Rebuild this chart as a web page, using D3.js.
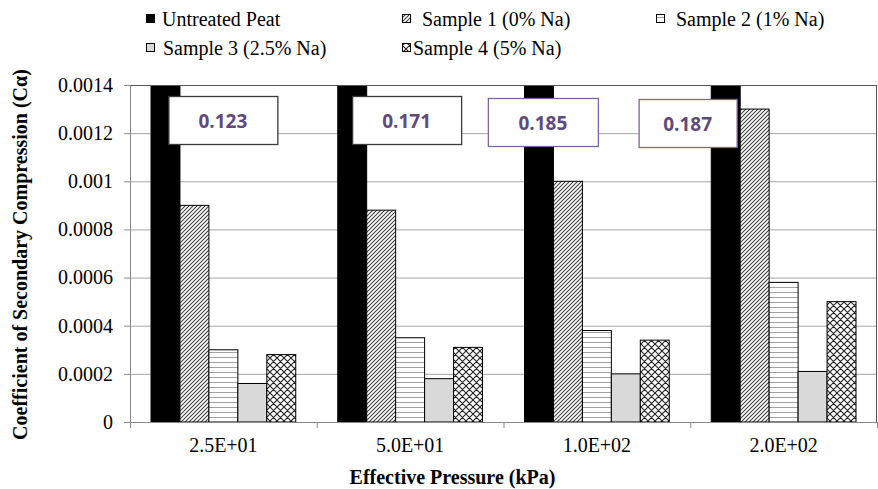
<!DOCTYPE html>
<html><head><meta charset="utf-8">
<script src="https://cdn.jsdelivr.net/npm/d3@7"></script>
<style>body{margin:0;background:#fff}svg{display:block}</style>
</head><body>
<svg id="chart" width="878" height="489"></svg>
<script>
const categories = ["2.5E+01", "5.0E+01", "1.0E+02", "2.0E+02"];
const seriesNames = ["Untreated Peat", "Sample 1 (0% Na)", "Sample 2 (1% Na)", "Sample 3 (2.5% Na)", "Sample 4 (5% Na)"];
const untreated = [0.123, 0.171, 0.185, 0.187];
const sample1 = [0.0009, 0.00088, 0.001, 0.0013];
const sample2 = [0.0003, 0.00035, 0.00038, 0.00058];
const sample3 = [0.00016, 0.00018, 0.0002, 0.00021];
const sample4 = [0.00028, 0.00031, 0.00034, 0.0005];
const yTicks = [0, 0.0002, 0.0004, 0.0006, 0.0008, 0.001, 0.0012, 0.0014];
const yTickLabels = ["0", "0.0002", "0.0004", "0.0006", "0.0008", "0.001", "0.0012", "0.0014"];
const labelValues = ["0.123", "0.171", "0.185", "0.187"];

const seriesValues = [untreated, sample1, sample2, sample3, sample4];
const fills = ["#000", "url(#pDiag)", "url(#pHoriz)", "#d9d9d9", "url(#pCross)"];

const svg = d3.select("#chart");
const m = {left: 130, right: 1, top: 85, bottom: 67};
const W = 878, H = 489;
const iw = W - m.left - m.right, ih = H - m.top - m.bottom;
const serif = "'Liberation Serif','Times New Roman',serif";

const defs = svg.append("defs");
const pd = defs.append("pattern").attr("id","pDiag").attr("patternUnits","userSpaceOnUse").attr("width",4).attr("height",4);
pd.append("rect").attr("width",4).attr("height",4).attr("fill","#fff");
pd.append("path").attr("d","M-1,1 L1,-1 M0,4 L4,0 M3,5 L5,3").attr("stroke","#444").attr("stroke-width",1.1);
const ph = defs.append("pattern").attr("id","pHoriz").attr("patternUnits","userSpaceOnUse").attr("width",4).attr("height",5);
ph.append("rect").attr("width",4).attr("height",5).attr("fill","#fff");
ph.append("path").attr("d","M0,2.5 L4,2.5").attr("stroke","#a0a0a0").attr("stroke-width",1);
const pc = defs.append("pattern").attr("id","pCross").attr("patternUnits","userSpaceOnUse").attr("width",7).attr("height",7);
pc.append("rect").attr("width",7).attr("height",7).attr("fill","#fff");
pc.append("path").attr("d","M0,0 L7,7 M7,0 L0,7 M-1,6 L1,8 M6,-1 L8,1 M-1,1 L1,-1 M6,8 L8,6").attr("stroke","#222").attr("stroke-width",1.1);
defs.append("clipPath").attr("id","plotClip").append("rect").attr("x",0).attr("y",0).attr("width",iw).attr("height",ih);

const g = svg.append("g").attr("transform",`translate(${m.left},${m.top})`);
const x0 = d3.scaleBand().domain(categories).range([0, iw]).paddingInner(0).paddingOuter(0);
const x1 = d3.scaleBand().domain(d3.range(seriesNames.length)).range([21, x0.bandwidth()-21]).padding(0);
const y = d3.scaleLinear().domain([0, 0.0014]).range([ih, 0]);

// gridlines
g.append("g").call(d3.axisLeft(y).tickValues(yTicks).tickSize(-iw).tickFormat(""))
  .call(a => a.select(".domain").remove())
  .selectAll("line").attr("stroke","#a6a6a6");

// bars
const bars = g.append("g").attr("clip-path","url(#plotClip)");
categories.forEach((c, ci) => {
  seriesValues.forEach((vals, si) => {
    bars.append("rect")
      .attr("x", x0(c) + x1(si))
      .attr("y", y(vals[ci]))
      .attr("width", x1.bandwidth())
      .attr("height", y(0) - y(vals[ci]))
      .attr("fill", fills[si]).attr("stroke","#000").attr("stroke-width",1);
  });
});

// frame top/right
g.append("line").attr("x1",0).attr("x2",iw).attr("y1",0.5).attr("y2",0.5).attr("stroke","#555");
g.append("line").attr("x1",iw-0.5).attr("x2",iw-0.5).attr("y1",0).attr("y2",ih).attr("stroke","#555");

// y axis
const ya = g.append("g").call(d3.axisLeft(y).tickValues(yTicks).tickSize(6).tickPadding(11).tickFormat((d,i)=>yTickLabels[i]));
ya.attr("font-family", serif);
ya.select(".domain").attr("stroke","#888");
ya.selectAll("line").attr("stroke","#888");
ya.selectAll("text").attr("font-family",serif).attr("font-size",20).attr("fill","#000");

// x axis
const xa = g.append("g").attr("transform",`translate(0,${ih})`)
  .call(d3.axisBottom(x0).tickSize(0).tickPadding(16));
xa.attr("font-family", serif);
xa.select(".domain").attr("stroke","#888");
xa.selectAll("text").attr("font-family",serif).attr("font-size",20).attr("fill","#000");
xa.selectAll(".sep").data(d3.range(categories.length+1)).enter().append("line")
  .attr("x1", i => i*x0.step()+0.5).attr("x2", i => i*x0.step()+0.5)
  .attr("y1",0).attr("y2",6).attr("stroke","#888");

// axis titles
svg.append("text").attr("x", m.left + iw/2 - 51).attr("y", 484)
  .attr("text-anchor","middle").attr("font-family",serif).attr("font-weight","bold").attr("font-size",20)
  .text("Effective Pressure (kPa)");
svg.append("text").attr("transform",`translate(27,${m.top + ih/2 + 1}) rotate(-90)`)
  .attr("text-anchor","middle").attr("font-family",serif).attr("font-weight","bold").attr("font-size",20)
  .text("Coefficient of Secondary Compression (Cα)");

// value boxes
const boxLayout = [{dx:-55, w:109, y:96, stroke:"#3a3a3a"},{dx:-58, w:109, y:96, stroke:"#3a3a3a"},{dx:-109, w:110, y:98, stroke:"#8064a2"},{dx:-145, w:98, y:99, stroke:"#8064a2"}];
categories.forEach((c, i) => {
  const L = boxLayout[i];
  const bx = m.left + x0(c) + x0.bandwidth()/2 + L.dx;
  svg.append("rect").attr("x", bx+0.5).attr("y", L.y+0.5).attr("width", L.w).attr("height", 48)
    .attr("fill","#fff").attr("stroke", L.stroke).attr("stroke-width",1.3);
  svg.append("text").attr("x", bx + L.w/2).attr("y", L.y + 25).attr("dominant-baseline","central")
    .attr("text-anchor","middle").attr("font-family","'Open Sans',sans-serif").attr("font-weight","bold")
    .attr("font-size",19).attr("fill","#604a7b").text(labelValues[i]);
});

// legend
const legendPos = [[146,19],[402,19],[656,19],[146,48],[402,48]];
const legendGap = [7,11,11,8,2];
seriesNames.forEach((n, i) => {
  const [lx, ly] = legendPos[i];
  svg.append("rect").attr("x", lx+0.5).attr("y", ly-4.5).attr("width",8).attr("height",8)
    .attr("fill", fills[i]).attr("stroke","#000").attr("stroke-width",1);
  svg.append("text").attr("x", lx + 9 + legendGap[i]).attr("y", ly).attr("dominant-baseline","central")
    .attr("font-family",serif).attr("font-size",20).attr("fill","#000").text(n);
});
</script>
</body></html>
